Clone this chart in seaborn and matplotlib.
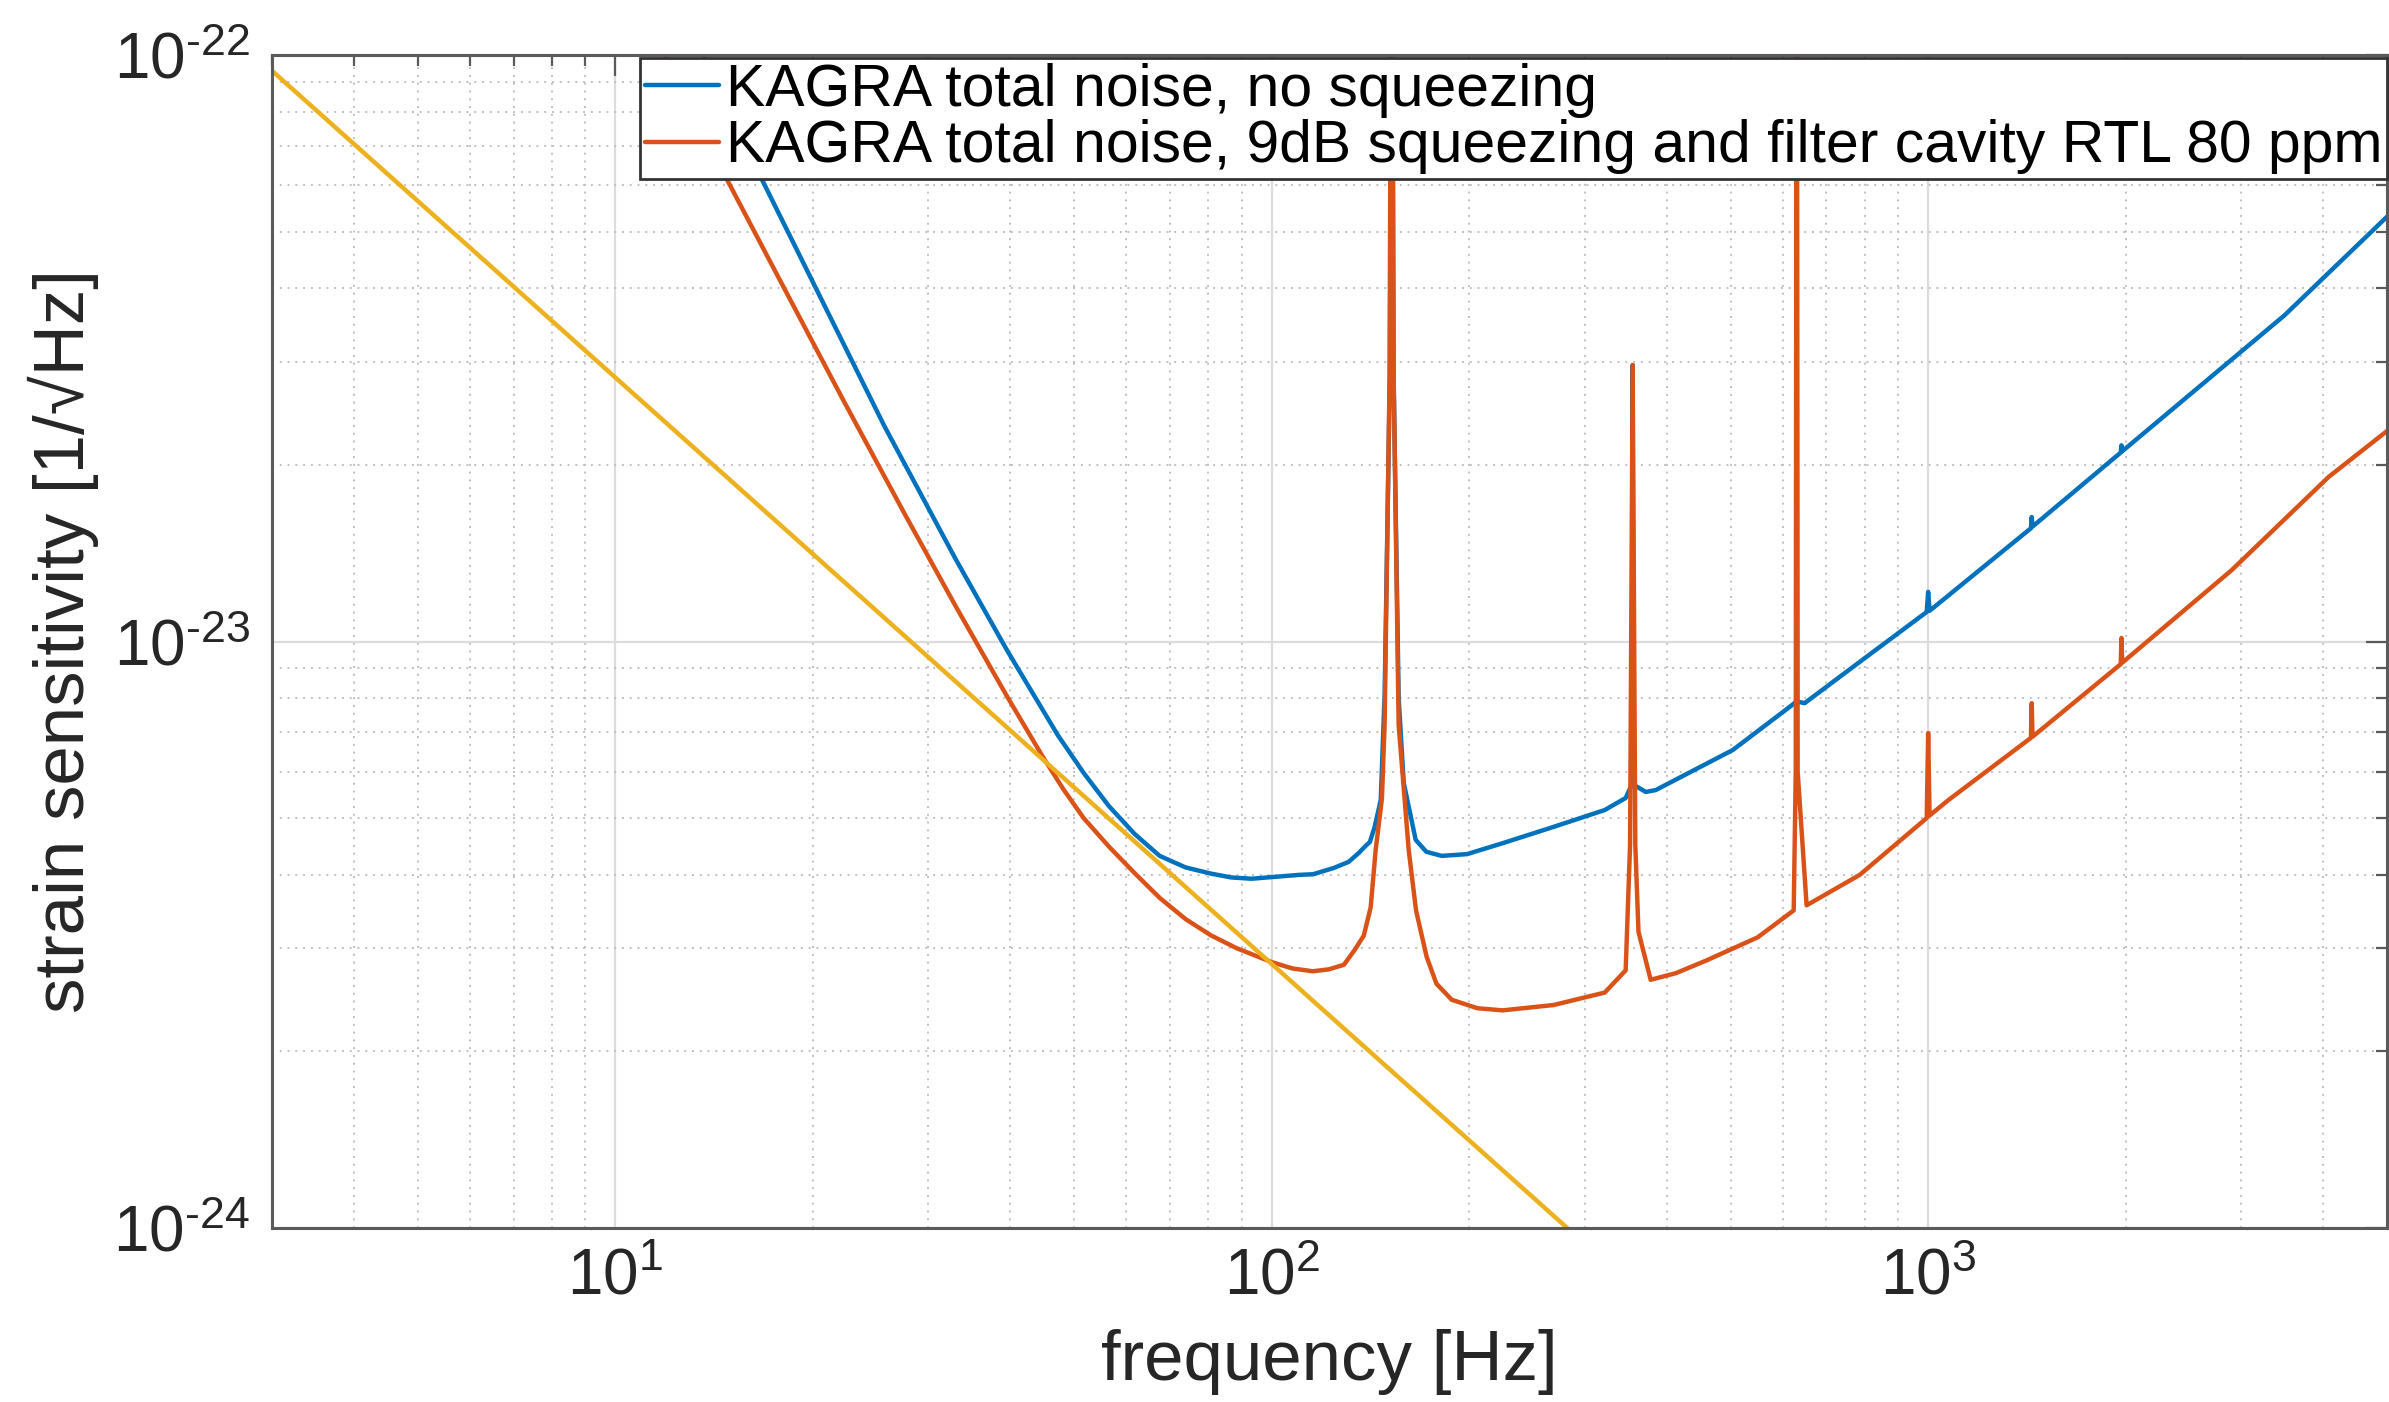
import numpy as np
import matplotlib
matplotlib.use("Agg")
import matplotlib.pyplot as plt
import seaborn as sns
from matplotlib.ticker import FixedLocator, FixedFormatter, LogLocator, NullFormatter

# ---------------- data ----------------
blue_label = "KAGRA total noise, no squeezing"
orange_label = "KAGRA total noise, 9dB squeezing and filter cavity RTL 80 ppm"

blue_f = [12, 16.72, 20.0, 25.7, 33.0, 39.5, 47.2, 51.7, 56.5, 61.8, 67.5, 73.9, 80.8, 86.8,
          93.2, 110, 115.6, 124.3, 131.0, 135.7, 139.5, 141.1, 143.5, 146.6, 148.6, 151.4,
          152.3, 153.3, 156.1, 158.9, 165.7, 172.0, 181.5, 198.5, 224.8, 268.8, 321.6,
          346.1, 353.6, 354.7, 355.8, 371.3, 384.5, 503.8, 617.5, 630.0, 630.6, 631.2,
          648.4, 786.5, 995, 1000, 1005, 1434, 1438, 1442, 1965, 1970, 1975, 3491, 5000]
blue_h = [1.35e-22, 6.14e-23, 4.10e-23, 2.33e-23, 1.382e-23, 9.67e-24, 6.93e-24, 5.97e-24,
          5.24e-24, 4.70e-24, 4.31e-24, 4.12e-24, 4.02e-24, 3.96e-24, 3.94e-24, 4.00e-24,
          4.01e-24, 4.11e-24, 4.21e-24, 4.36e-24, 4.50e-24, 4.55e-24, 4.83e-24, 5.37e-24,
          8.11e-24, 2.9e-23, 3.0e-22, 2.9e-23, 8.0e-24, 5.74e-24, 4.59e-24, 4.38e-24,
          4.31e-24, 4.34e-24, 4.53e-24, 4.83e-24, 5.16e-24, 5.41e-24, 5.7e-24, 2.96e-23,
          5.7e-24, 5.54e-24, 5.58e-24, 6.53e-24, 7.76e-24, 7.9e-24, 3.0e-22, 7.9e-24,
          7.85e-24, 9.23e-24, 1.123e-23, 1.215e-23, 1.128e-23, 1.56e-23, 1.63e-23, 1.57e-23,
          2.10e-23, 2.16e-23, 2.11e-23, 3.6e-23, 5.3e-23]

orange_f = [10, 14.79, 17.68, 22.29, 27.6, 33.0, 39.5, 44.8, 48.1, 51.7, 56.5, 61.8, 67.6,
            74.0, 80.8, 88.4, 100, 107.6, 115.5, 122, 128.8, 133.8, 138.1, 141.5, 144.0,
            147.2, 148.6, 151.2, 152.3, 153.4, 156.1, 161.7, 165.9, 172.2, 178.2, 188.0,
            205.7, 224.8, 268.8, 321.6, 346.1, 351.5, 354.7, 358.0, 362.0, 377.8, 413,
            459.8, 549.9, 624, 628.5, 630.6, 632.7, 652.9, 786.5, 974, 995, 1000, 1005,
            1074.5, 1434, 1438, 1442, 1965, 1970, 1975, 2899, 4074, 5000]
orange_h = [1.48e-22, 6.14e-23, 4.20e-23, 2.57e-23, 1.650e-23, 1.149e-23, 8.07e-24, 6.36e-24,
            5.61e-24, 5.00e-24, 4.47e-24, 4.03e-24, 3.65e-24, 3.36e-24, 3.155e-24, 3.00e-24,
            2.84e-24, 2.77e-24, 2.74e-24, 2.76e-24, 2.81e-24, 2.98e-24, 3.15e-24, 3.52e-24,
            4.41e-24, 5.40e-24, 7.23e-24, 2.79e-23, 3.0e-22, 2.79e-23, 7.2e-24, 4.41e-24,
            3.48e-24, 2.90e-24, 2.61e-24, 2.45e-24, 2.37e-24, 2.35e-24, 2.40e-24, 2.52e-24,
            2.75e-24, 4.5e-24, 2.96e-23, 4.5e-24, 3.2e-24, 2.65e-24, 2.72e-24, 2.86e-24,
            3.13e-24, 3.48e-24, 6.0e-24, 3.0e-22, 6.0e-24, 3.55e-24, 4.0e-24, 4.90e-24,
            5.0e-24, 6.98e-24, 5.05e-24, 5.37e-24, 6.85e-24, 7.85e-24, 6.88e-24, 9.15e-24,
            1.014e-23, 9.2e-24, 1.323e-23, 1.908e-23, 2.285e-23]

yellow_f = [3, 300]
yellow_h = [9.4e-23, 9.4e-25]

x_ticks = [10, 100, 1000]
x_ticklabels = [r"$\mathdefault{10^{1}}$", r"$\mathdefault{10^{2}}$", r"$\mathdefault{10^{3}}$"]
y_ticks = [1e-24, 1e-23, 1e-22]
y_ticklabels = ["$\\mathdefault{10^{\u201024}}$", "$\\mathdefault{10^{\u201023}}$",
                "$\\mathdefault{10^{\u201022}}$"]

# ---------------- style ----------------
sns.set_theme(style="white")
plt.rcParams["font.family"] = ["Liberation Sans", "DejaVu Sans"]
plt.rcParams["mathtext.fontset"] = "custom"
plt.rcParams["mathtext.rm"] = "Liberation Sans"
plt.rcParams["mathtext.it"] = "Liberation Sans:italic"
plt.rcParams["mathtext.bf"] = "Liberation Sans:bold"
plt.rcParams["mathtext.default"] = "regular"

C_BLUE = "#0072BD"
C_ORANGE = "#D95319"
C_YELLOW = "#EDB120"
TXT = "#262626"
AXC = "#5a5a5a"

W, H = 2389, 1402
fig = plt.figure(figsize=(W / 100, H / 100), dpi=100)
L, R, T, B = 272, 2387, 55, 1228
ax = fig.add_axes([L / W, 1 - B / H, (R - L) / W, (B - T) / H])
ax.set_xscale("log")
ax.set_yscale("log")

LW = 3.2
sns.lineplot(x=blue_f, y=blue_h, ax=ax, color=C_BLUE, linewidth=LW, sort=False,
             estimator=None, legend=False)
sns.lineplot(x=orange_f, y=orange_h, ax=ax, color=C_ORANGE, linewidth=LW, sort=False,
             estimator=None, legend=False)
sns.lineplot(x=yellow_f, y=yellow_h, ax=ax, color=C_YELLOW, linewidth=LW, sort=False,
             estimator=None, legend=False)
for ln in ax.get_lines():
    ln.set_solid_joinstyle("round")

ax.set_xlim(3, 5000)
ax.set_ylim(1e-24, 1e-22)

# ticks
ax.xaxis.set_major_locator(FixedLocator(x_ticks))
ax.xaxis.set_major_formatter(FixedFormatter(x_ticklabels))
ax.yaxis.set_major_locator(FixedLocator(y_ticks))
ax.yaxis.set_major_formatter(FixedFormatter(y_ticklabels))
ax.xaxis.set_minor_locator(LogLocator(base=10, subs=np.arange(2, 10), numticks=20))
ax.yaxis.set_minor_locator(LogLocator(base=10, subs=np.arange(2, 10), numticks=20))
ax.xaxis.set_minor_formatter(NullFormatter())
ax.yaxis.set_minor_formatter(NullFormatter())

ax.tick_params(which="major", direction="in", length=15, width=1.6, color=AXC,
               top=True, right=True, labelsize=46, labelcolor=TXT)
ax.tick_params(which="minor", direction="in", length=8, width=1.6, color=AXC,
               top=True, right=True)
ax.tick_params(axis="x", which="major", pad=14)
ax.tick_params(axis="y", which="major", pad=16)

# grid
ax.set_axisbelow(True)
ax.grid(which="major", color="#dcdcdc", linewidth=1.6, linestyle="-")
ax.grid(which="minor", color="#c0c0c0", linewidth=1.4, linestyle=(0, (1, 3)))

for s in ax.spines.values():
    s.set_color(AXC)
    s.set_linewidth(2.2)
    s.set_visible(True)

# labels
ax.set_xlabel("frequency [Hz]", fontsize=51, color=TXT)
ax.set_ylabel("strain sensitivity [1/√Hz]", fontsize=51, color=TXT)
ax.xaxis.set_label_coords(0.5, -0.086)
ax.yaxis.set_label_coords(-0.082, 0.5)

# legend
lines = ax.get_lines()
leg = ax.legend(handles=[lines[0], lines[1]], labels=[blue_label, orange_label],
                loc="upper right", bbox_to_anchor=(1.0, 1.0 - 3 / (B - T)),
                fontsize=42.4, frameon=True, fancybox=False, framealpha=1.0,
                edgecolor="#333333", borderpad=0.08, labelspacing=0.03,
                handlelength=1.25, handletextpad=0.12, borderaxespad=0.0)
leg.get_frame().set_linewidth(2.0)
for t in leg.get_texts():
    t.set_color("#000000")

fig.savefig("out.png", dpi=100)
